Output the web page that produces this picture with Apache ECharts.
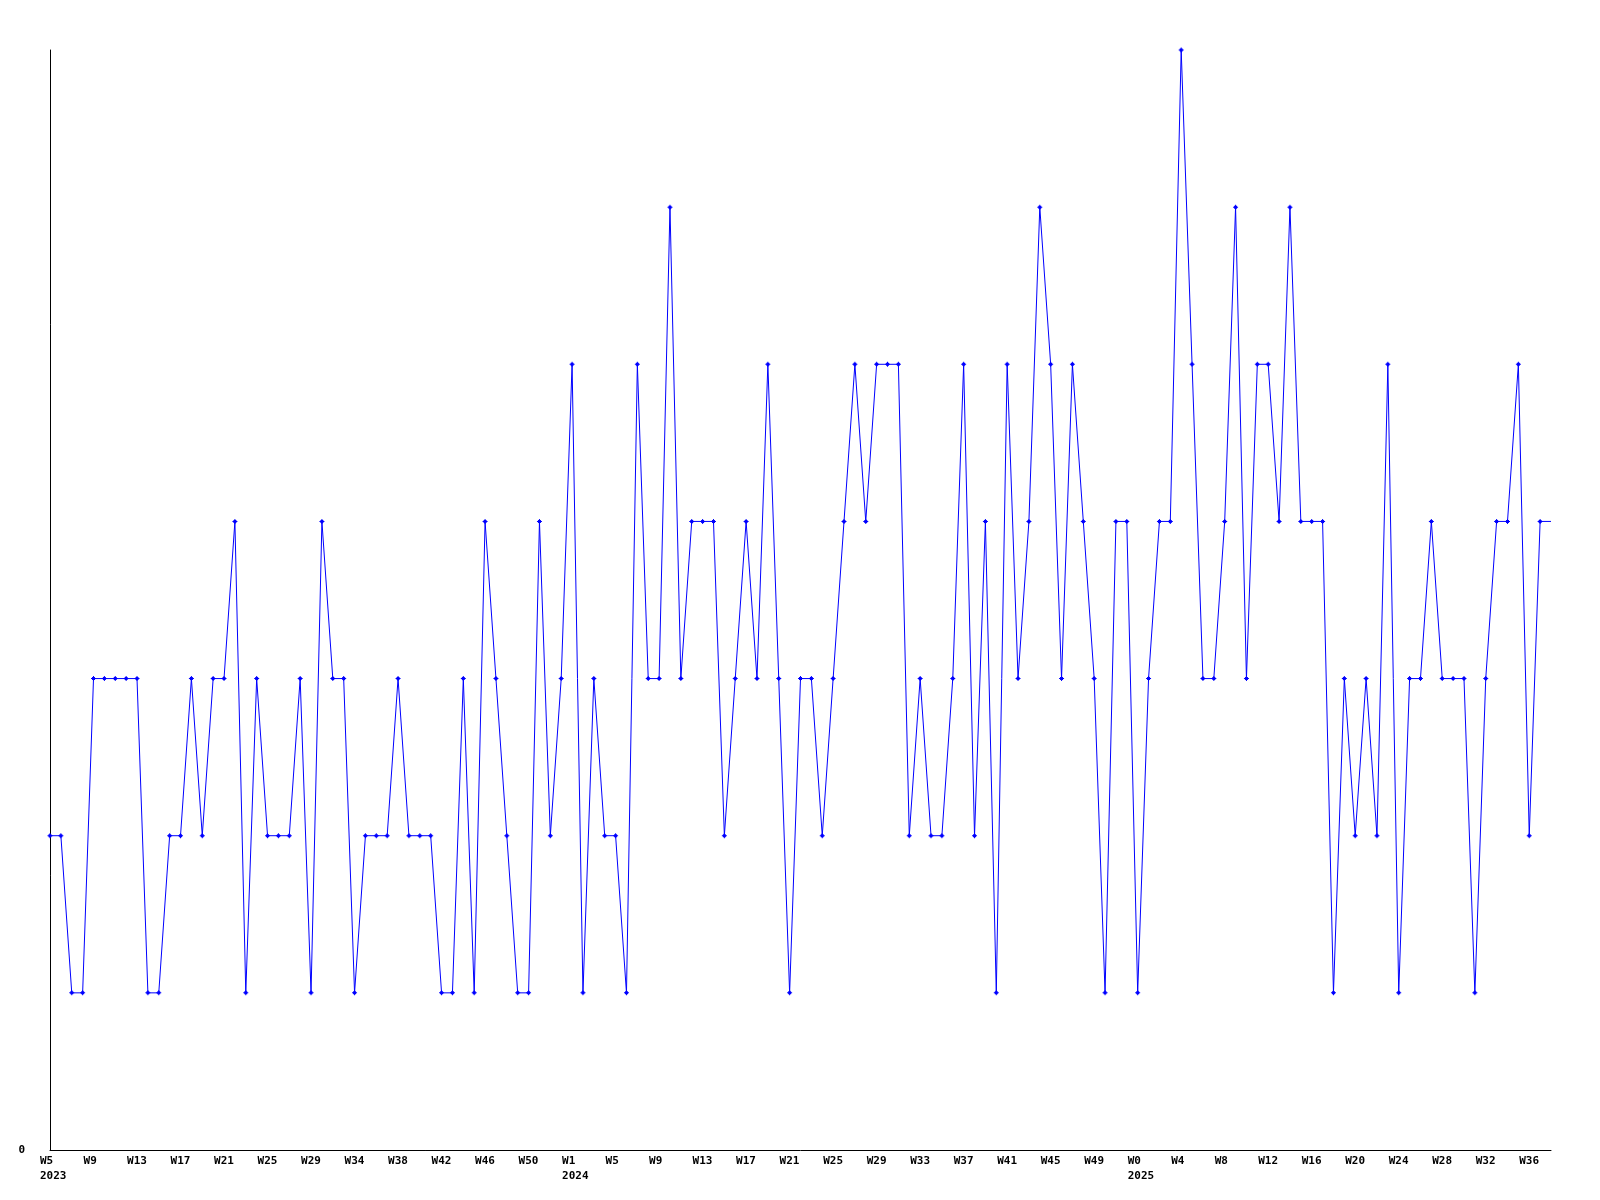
<!DOCTYPE html>
<html>
<head>
<meta charset="utf-8">
<script src="https://cdn.jsdelivr.net/npm/echarts@6/dist/echarts.min.js"></script>
<style>
  html, body { margin: 0; padding: 0; background: #ffffff; }
  #chart { width: 1600px; height: 1200px; }
</style>
</head>
<body>
<div id="chart"></div>
<script>
// Week numbers per year (as labelled in the source chart)
const weeks2023 = [5,6,7,8,9,10,11,12,13,14,15,16,17,18,19,20,21,22,23,24,25,26,27,28,29,
                   31,32,33,34,35,36,37,38,39,40,41,42,43,44,45,46,47,48,49,50,51,52,53];
const weeks2024 = [1,2,3,4,5,6,7,8,9,10,11,12,13,14,15,16,17,18,19,20,21,22,23,24,25,26,
                   27,28,29,30,31,32,33,34,35,36,37,38,39,40,41,42,43,44,45,46,47,48,49,50,51,52];
const weeks2025 = [0,1,2,3,4,5,6,7,8,9,10,11,12,13,14,15,16,17,18,19,20,21,22,23,24,25,26,
                   27,28,29,30,31,32,33,34,35,36,37,38];
const years = ['2023', '2024', '2025'];

// Weekly values
const values = [
  2,2,1,1,3,3,3,3,3,1,1,2,2,3,2,3,3,4,1,3,2,2,2,3,1,4,3,3,1,2,2,2,3,2,2,2,1,1,3,1,
  4,3,2,1,1,4,2,3,5,1,3,2,2,1,5,3,3,6,3,4,4,4,2,3,4,3,5,3,1,3,3,2,3,4,5,4,5,5,5,2,
  3,2,2,3,5,2,4,1,5,3,4,6,5,3,5,4,3,1,4,4,1,3,4,4,7,5,3,3,4,6,3,5,5,4,6,4,4,4,1,3,
  2,3,2,5,1,3,3,4,3,3,3,1,3,4,4,5,2,4,4
];

const yTickLabels = ['0'];

const categories = [];
const yearStart = {};
[weeks2023, weeks2024, weeks2025].forEach((wk, yi) => {
  yearStart[categories.length] = years[yi];
  wk.forEach(w => categories.push('W' + w));
});

const chart = echarts.init(document.getElementById('chart'), null, { renderer: 'canvas' });
const FONT = '"DejaVu Sans Mono", monospace';
const lastIndex = values.length - 1;

chart.setOption({
  animation: false,
  backgroundColor: '#ffffff',
  grid: { left: 50, right: 49, top: 50, bottom: 50, containLabel: false },
  xAxis: {
    type: 'category',
    data: categories,
    boundaryGap: false,
    axisLine: { show: true, lineStyle: { color: '#000000', width: 1 } },
    axisTick: { show: false },
    splitLine: { show: false },
    axisLabel: {
      interval: 3,
      hideOverlap: false,
      align: 'left',
      padding: [0, 0, 0, -10],
      margin: 4,
      lineHeight: 15,
      color: '#000000',
      fontFamily: FONT,
      fontWeight: 'bold',
      fontSize: 11,
      formatter: (val, idx) => (yearStart[idx] !== undefined ? val + '\n' + yearStart[idx] : val)
    }
  },
  yAxis: {
    type: 'value',
    min: 0,
    max: 7,
    interval: 7,
    axisLine: { show: true, lineStyle: { color: '#000000', width: 1 } },
    axisTick: { show: false },
    splitLine: { show: false },
    axisLabel: {
      margin: 25,
      color: '#000000',
      fontFamily: FONT,
      fontWeight: 'bold',
      fontSize: 11,
      formatter: v => (yTickLabels.indexOf(String(v)) >= 0 ? String(v) : '')
    }
  },
  series: [{
    type: 'line',
    data: values,
    showAllSymbol: true,
    symbol: (v, p) => (p.dataIndex === lastIndex ? 'none'
      : 'path://M2,0H3V1H4V2H5V3H4V4H3V5H2V4H1V3H0V2H1V1H2Z'),
    symbolSize: 5,
    lineStyle: { color: '#0000ff', width: 1 },
    itemStyle: { color: '#0000ff' },
    emphasis: { disabled: true }
  }]
});
</script>
</body>
</html>
